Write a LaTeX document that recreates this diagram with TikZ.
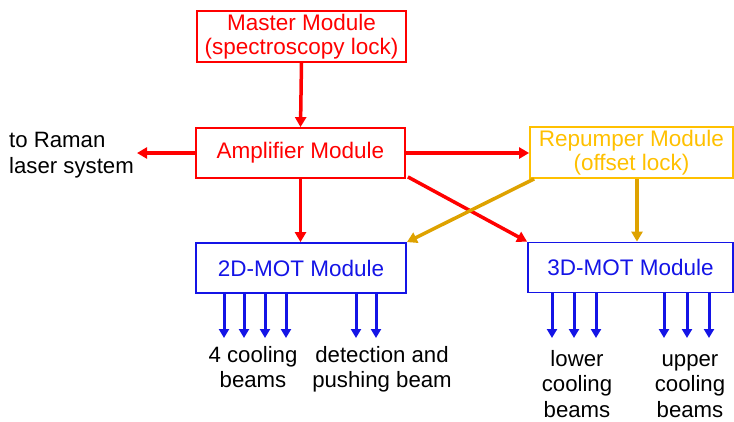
\documentclass[tikz,border=0pt]{standalone}
\usepackage{fontspec}
\setmainfont{Liberation Sans}
\usetikzlibrary{arrows.meta}
\definecolor{myred}{RGB}{255,0,0}
\definecolor{boxgold}{RGB}{255,192,0}
\definecolor{arrgold}{RGB}{222,162,0}
\definecolor{myblue}{RGB}{20,20,230}
\begin{document}
\begin{tikzpicture}[x=1pt,y=-1pt,
  font=\fontsize{22.5}{24.5}\selectfont,
  box/.style={draw, line width=1.8pt, inner sep=0pt, align=center},
  arr/.style={line width=3.5pt, -{Triangle[length=10pt,width=11pt]}},
  beam/.style={draw=myblue, line width=3pt, -{Triangle[length=9pt,width=10pt]}},
  lbl/.style={align=center, inner sep=0pt, text=black, font=\fontsize{22.2}{25.5}\selectfont}]
\useasboundingbox (0,0) rectangle (734,421);
\node[box, draw=myred, text=myred, minimum width=209pt, minimum height=51pt] (master) at (301.5,36.5) {Master Module\\(spectroscopy lock)};
\node[box, draw=myred, text=myred, minimum width=209pt, minimum height=50pt] (amp) at (300.5,153) {Amplifier Module};
\node[box, draw=boxgold, text=boxgold, minimum width=203pt, minimum height=51pt] (rep) at (631.5,152.5) {Repumper Module\\(offset lock)};
\node[box, draw=myblue, text=myblue, minimum width=210pt, minimum height=50pt] (mot2) at (301,268) {2D-MOT Module};
\node[box, draw=myblue, text=myblue, minimum width=205pt, minimum height=50pt] (mot3) at (630.5,267.5) {3D-MOT Module};
\coordinate (raman) at (137,153);
\node[lbl, align=left, anchor=west] (ramantext) at (9,155) {to Raman\\laser system};
\draw[arr, myred] (master.south) -- (amp.north);
\draw[arr, myred] (amp.west) -- (raman);
\draw[arr, myred] (amp.east) -- (amp.east -| rep.west);
\draw[arr, myred] (amp.south) -- (amp.south |- mot2.north);
\draw[arr, myred] ([xshift=2pt,yshift=2pt]amp.south east) -- (mot3.north west);
\draw[arr, arrgold] ([xshift=5pt]rep.south west) -- (mot2.north east);
\draw[arr, arrgold] ([xshift=5.5pt]rep.south) -- ([xshift=5.5pt]rep.south |- mot3.north);
\foreach \x in {224,244,265,286,356,376}
  \draw[beam] (\x,0 |- mot2.south) -- (\x,338);
\foreach \x in {552,574,596,664,687,709}
  \draw[beam] (\x,0 |- mot3.south) -- (\x,338);
\node[lbl] (cool4) at (253,370) {\strut 4 cooling\\beams\strut};
\node[lbl] (detect) at (382,370) {\strut detection and\\pushing beam\strut};
\node[lbl] (lower) at (577,383) {\strut lower\\cooling\\beams};
\node[lbl] (upper) at (690,383) {\strut upper\\cooling\\beams};
\end{tikzpicture}
\end{document}
